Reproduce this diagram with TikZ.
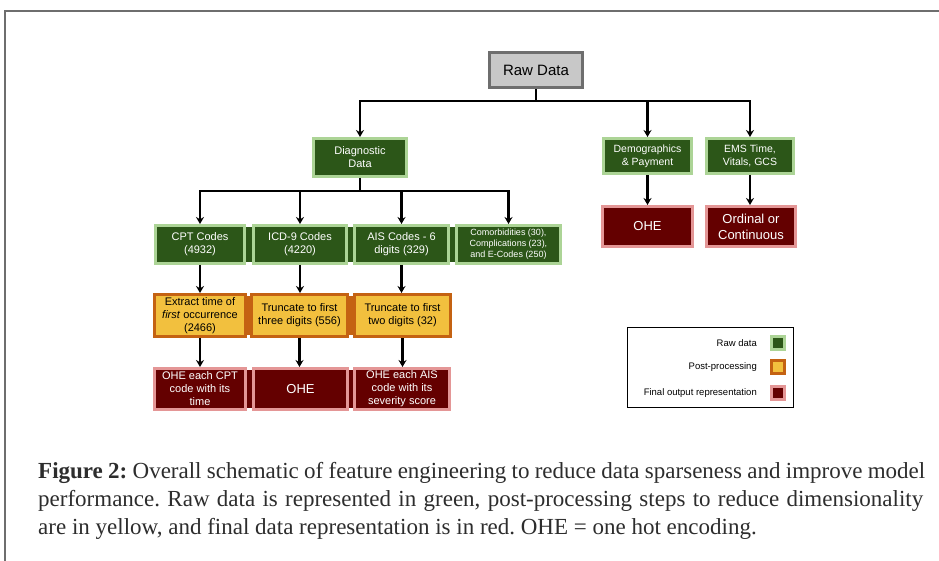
\documentclass[tikz,border=0pt]{standalone}
\usepackage{fontspec}
\setmainfont{Liberation Serif}
\newfontfamily\arialf{Liberation Sans}
\usetikzlibrary{arrows.meta}
\frenchspacing
\definecolor{gfill}{RGB}{44,86,24}
\definecolor{gline}{RGB}{172,212,150}
\definecolor{yfill}{RGB}{242,192,62}
\definecolor{yline}{RGB}{196,98,18}
\definecolor{rfill}{RGB}{100,0,0}
\definecolor{rline}{RGB}{228,150,150}
\definecolor{grfill}{RGB}{200,200,200}
\definecolor{grline}{RGB}{110,110,110}
\definecolor{captc}{RGB}{45,45,45}
\tikzset{
  bx/.style={draw, line width=3pt, inner sep=0pt, align=center,
    font=\arialf\fontsize{11}{13}\selectfont},
  gbox/.style={bx, fill=gfill, draw=gline, text=white},
  ybox/.style={bx, fill=yfill, draw=yline, text=black},
  rbox/.style={bx, fill=rfill, draw=rline, text=white},
  conn/.style={line width=2.8pt, black},
  arr/.style={conn, -{Stealth[length=7pt,width=8pt]}},
  swatch/.style={draw, line width=2.5pt, minimum width=13pt, minimum height=13pt, inner sep=0pt},
  legtext/.style={anchor=east, font=\arialf\fontsize{9.5}{11}\selectfont, inner sep=0pt},
  capline/.style={anchor=base west, inner sep=0pt, text=captc, font=\fontsize{23}{27}\selectfont\frenchspacing}
}
\begin{document}
\begin{tikzpicture}[x=1pt,y=-1pt]
\useasboundingbox (0,0) rectangle (939,561);
\fill[white] (0,0) rectangle (939,561);
\draw[grline, line width=1.3pt] (5,561) -- (5,11) -- (939,11);

% top
\node[bx, fill=grfill, draw=grline, line width=3.5pt, minimum width=93pt, minimum height=35pt,
  font=\arialf\fontsize{15}{17}\selectfont] (raw) at (536,70) {Raw Data};

% level 1
\node[gbox, minimum width=93pt, minimum height=38pt] (diag) at (360,157.5) {Diagnostic\\Data};
\node[gbox, minimum width=88pt, minimum height=35pt, font=\arialf\fontsize{10.5}{13}\selectfont] (demo) at (647.5,156) {Demographics\\\& Payment};
\node[gbox, minimum width=87pt, minimum height=35pt, font=\arialf\fontsize{10.5}{13}\selectfont] (ems) at (750,156) {EMS Time,\\Vitals, GCS};
\node[rbox, minimum width=90pt, minimum height=40pt, font=\arialf\fontsize{13}{16}\selectfont] (ohe1) at (647.5,226.5) {OHE};
\node[rbox, minimum width=89pt, minimum height=40pt, font=\arialf\fontsize{13}{16}\selectfont] (ord) at (751,226.5) {Ordinal or\\Continuous};

% row 2 backing strip
\fill[gfill] (160,227) rectangle (556,262);
\node[gbox, minimum width=89pt, minimum height=38pt] (cpt) at (200,244.5) {CPT Codes\\(4932)};
\node[gbox, minimum width=93pt, minimum height=38pt] (icd) at (300,244.5) {ICD-9 Codes\\(4220)};
\node[gbox, minimum width=94pt, minimum height=38pt] (ais) at (401.5,244.5) {AIS Codes - 6\\digits (329)};
\node[gbox, minimum width=104pt, minimum height=38pt, font=\arialf\fontsize{9}{11}\selectfont] (com) at (508.5,244.5) {Comorbidities (30),\\Complications (23),\\and E-Codes (250)};

% row 3 backing strip
\fill[yline] (160,296) rectangle (446,335);
\node[ybox, minimum width=91pt, minimum height=42pt] (ycpt) at (200,315.5) {Extract time of\\\textit{first} occurrence\\(2466)};
\node[ybox, minimum width=96pt, minimum height=42pt] (yicd) at (299.5,315.5) {Truncate to first\\three digits (556)};
\node[ybox, minimum width=96pt, minimum height=42pt] (yais) at (402.5,315.5) {Truncate to first\\two digits (32)};

% row 4 backing strip
\fill[rfill] (160,370) rectangle (446,408);
\node[rbox, minimum width=91pt, minimum height=41pt] (rcpt) at (200,389) {OHE each CPT\\code with its\\time};
\node[rbox, minimum width=94pt, minimum height=41pt, font=\arialf\fontsize{13}{16}\selectfont] (ricd) at (300.5,389) {OHE};
\node[rbox, minimum width=95pt, minimum height=41pt] (rais) at (402,389) {OHE each AIS\\code with its\\severity score};

% connectors
\coordinate (b1) at (536,101);
\coordinate (b2) at (360,191);
\draw[conn] (raw.south) -- (raw.south |- b1);
\draw[conn, line cap=rect] (b1 -| diag) -- (b1 -| ems);
\draw[arr] (b1 -| diag) -- (diag.north);
\draw[arr] (b1 -| demo) -- (demo.north);
\draw[arr] (b1 -| ems) -- (ems.north);
\draw[arr] (demo.south) -- (demo.south |- ohe1.north);
\draw[arr] (ems.south) -- (ems.south |- ord.north);

\draw[conn] (diag.south) -- (b2);
\draw[conn, line cap=rect] (b2 -| cpt) -- (b2 -| com);
\draw[arr] (b2 -| cpt) -- (cpt.north);
\draw[arr] (b2 -| icd) -- (icd.north);
\draw[arr] (b2 -| ais) -- (ais.north);
\draw[arr] (b2 -| com) -- (com.north);

\draw[arr] (cpt.south) -- (cpt.south |- ycpt.north);
\draw[arr] (icd.south) -- (icd.south |- yicd.north);
\draw[arr] (ais.south) -- (ais.south |- yais.north);
\draw[arr] (ycpt.south) -- (ycpt.south |- rcpt.north);
\draw[arr] (yicd.south) -- (yicd.south |- ricd.north);
\draw[arr] (yais.south) -- (yais.south |- rais.north);

% legend
\node[draw, line width=0.9pt, minimum width=166pt, minimum height=80pt, inner sep=0pt] (leg) at (710,367) {};
\node[legtext] (lraw) at (757,343) {Raw data};
\node[legtext] (lpost) at (757,367) {Post-processing};
\node[legtext] (lfin) at (757,393) {Final output representation};
\node[swatch, fill=gfill, draw=gline] (sraw) at (778,343) {};
\node[swatch, fill=yfill, draw=yline] (spost) at (778,367) {};
\node[swatch, fill=rfill, draw=rline] (sfin) at (778,393) {};

% caption
\node[capline] (c1) at (38,478) {\makebox[887pt][s]{\textbf{Figure 2:} Overall schematic of feature engineering to reduce data sparseness and improve model}};
\node[capline] (c2) at (38,506) {\makebox[885pt][s]{performance. Raw data is represented in green, post-processing steps to reduce dimensionality}};
\node[capline] (c3) at (38,534) {are in yellow, and final data representation is in red. OHE = one hot encoding.};
\end{tikzpicture}
\end{document}
